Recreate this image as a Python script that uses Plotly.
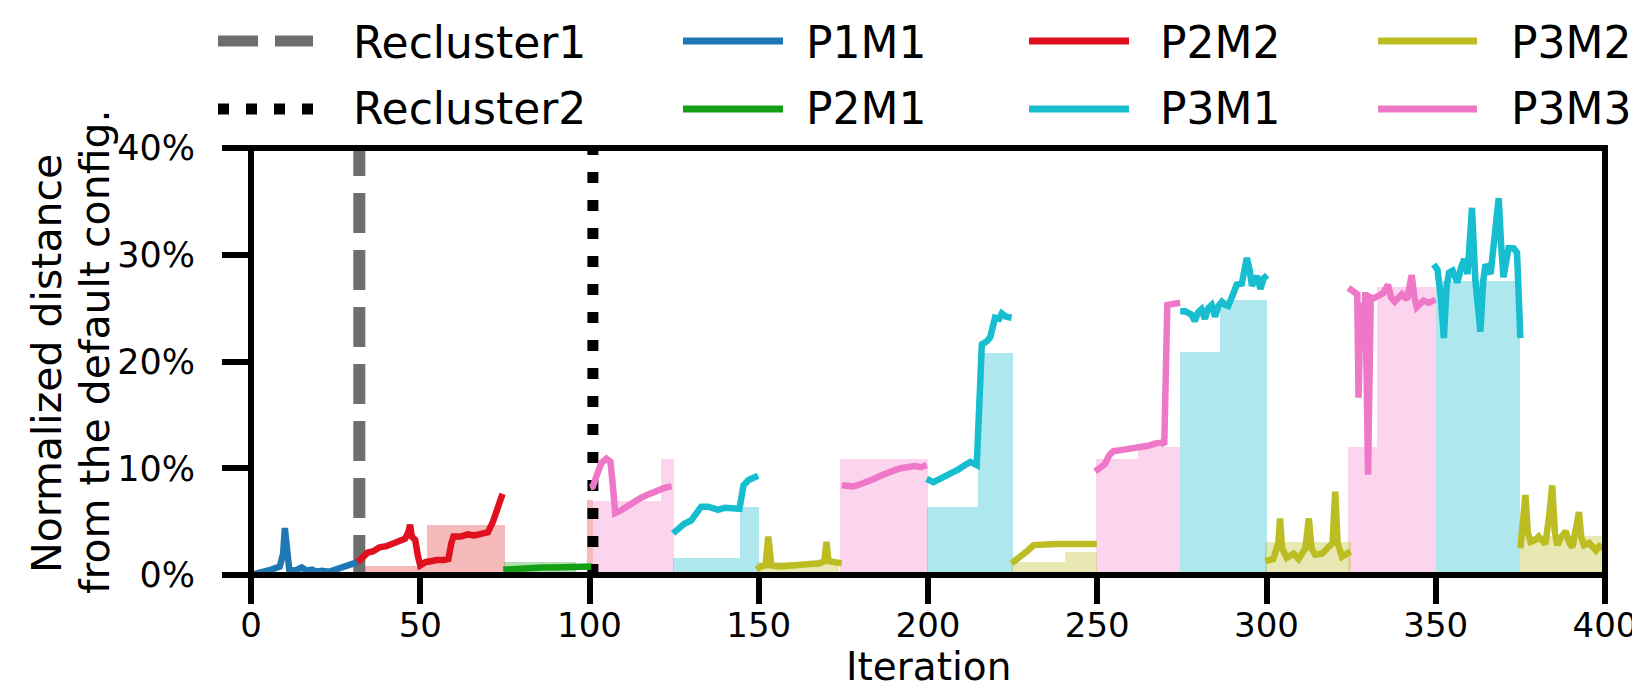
import plotly.graph_objects as go

# ---------------- data (iteration, normalized distance in %) ----------------
p1m1_iter = [0, 3, 6, 8.5, 9.5, 10, 10.6, 11.3, 13, 15, 16.5, 18, 19.5, 21, 23, 25, 27, 29, 31.5]
p1m1_dist = [0.0, 0.2, 0.5, 0.8, 2.0, 4.4, 2.0, 0.5, 0.4, 0.7, 0.4, 0.5, 0.3, 0.4, 0.3, 0.5, 0.6, 0.9, 1.2]

p2m2_iter = [31.5, 33, 34.5, 36, 38, 40, 42, 44, 45.5, 46.5, 47, 47.5, 48.5, 49.3, 50, 51.5, 53, 55,
             57, 58.3, 59.2, 59.8, 62, 64, 66, 68, 70, 71.5, 73, 74.3]
p2m2_dist = [1.2, 1.7, 2.1, 2.2, 2.6, 2.7, 3.0, 3.2, 3.4, 4.0, 4.7, 3.6, 3.3, 1.8, 0.9, 1.2, 1.3, 1.4,
             1.4, 1.5, 3.0, 3.6, 3.6, 3.8, 3.7, 3.8, 4.0, 5.0, 6.5, 7.6]

p2m1_iter = [74.5, 78, 82, 86, 90, 94, 97, 100.5]
p2m1_dist = [0.5, 0.6, 0.6, 0.7, 0.7, 0.7, 0.8, 0.8]

p3m3_iter = [100.2, 101, 102, 103.5, 105, 106.2, 107, 107.6, 109, 111, 113, 115, 117, 119, 121, 122.5, 124.3, None,
             174.5, 176, 178, 180, 182, 184, 186, 188, 190, 192, 194, 196, 198, 199.6, None,
             249.4, 250.5, 252.3, 253.5, 254.8, 257, 259, 261, 263, 265, 267, 269, 269.8, 270.3, 270.7, 272.5, 274.5, None,
             324.2, 325.5, 326.5, 326.8, 327.2, 327.8, 328.5, 329.2, 330.0, 330.8, 331.5, 333, 334.5, 335.9, 336.8,
             337.9, 339, 340, 341.5, 342.9, 343.7, 344.4, 346.4, 348, 349.9]
p3m3_dist = [8.2, 8.3, 9.2, 10.5, 10.9, 10.6, 8.0, 5.8, 6.0, 6.4, 6.9, 7.2, 7.5, 7.8, 8.0, 8.2, 8.3, None,
             8.4, 8.4, 8.3, 8.5, 8.7, 9.0, 9.3, 9.6, 9.8, 10.0, 10.1, 10.2, 10.1, 10.3, None,
             9.7, 10.0, 10.4, 11.2, 11.6, 11.7, 11.8, 11.9, 11.9, 12.1, 12.3, 12.4, 12.2, 20.0, 25.3, 25.4, 25.5, None,
             26.9, 26.6, 26.2, 26.3, 16.6, 25.5, 22.0, 26.5, 9.4, 26.0, 25.9, 26.2, 26.4, 27.2, 26.0,
             25.6, 26.0, 26.3, 25.8, 28.1, 26.0, 25.1, 25.7, 25.5, 25.8]

p3m1_iter = [124.7, 126.5, 128, 130, 131.5, 133, 135, 136.5, 138, 140, 142, 144.3, 145, 145.5, 147, 148.5, 149.8, None,
             199.6, 201.6, 203.5, 205.5, 207, 209, 211, 212.5, 214.4, 215, 215.9, 217.4, 218.4, 219.8, 221, 221.8, 223, 224.7, None,
             274.5, 276, 277.8, 278.8, 279.8, 280.8, 281.8, 282.8, 283.8, 284.8, 285.8, 286.8, 287.8, 288.7, 290, 291.2,
             292.7, 293.5, 294.2, 295, 295.7, 296.5, 297.2, 298.2, 299.2, 300.2, None,
             349.4, 350.5, 351.5, 352.4, 353.2, 353.9, 355, 356.4, 357.5, 358.4, 359.4, 360, 360.7, 361.7, 362.5, 363.2,
             364, 364.7, 366.2, 367.5, 368.6, 369.3, 370, 371.5, 373, 374, 374.5, 375]
p3m1_dist = [3.9, 4.4, 4.8, 5.1, 5.8, 6.4, 6.4, 6.3, 6.1, 6.3, 6.2, 6.2, 7.5, 8.4, 8.9, 9.1, 9.3, None,
             9.0, 8.7, 9.0, 9.3, 9.6, 9.9, 10.3, 10.6, 10.3, 15.0, 21.6, 21.9, 22.3, 24.1, 24.0, 24.5, 24.2, 24.1, None,
             24.7, 24.7, 24.4, 23.8, 24.6, 24.9, 24.0, 25.0, 25.3, 24.2, 25.2, 25.6, 25.3, 25.2, 26.2, 27.2,
             27.3, 28.5, 29.7, 28.6, 27.1, 27.6, 28.0, 26.8, 27.8, 28.1, None,
             29.1, 28.6, 26.0, 22.2, 27.0, 28.3, 28.5, 27.4, 28.8, 29.6, 28.2, 31.0, 34.4, 27.6, 25.0, 22.8,
             27.5, 29.1, 28.2, 32.0, 35.3, 31.0, 27.9, 30.6, 30.6, 30.2, 26.0, 22.2]

p3m2_iter = [149.4, 150.5, 152, 152.5, 152.8, 153.2, 153.7, 156, 159, 162, 165, 168, 169.4, 170, 170.6, 172, 174.5, None,
             224.7, 226, 227.7, 229.5, 231.2, 234, 238, 242, 246, 249.9, None,
             299.6, 302, 303.5, 304, 304.6, 306, 308, 309.5, 311.5, 312.5, 313.3, 314.4, 316.4, 319.5, 320.3, 321, 322.3, 324.8, None,
             375, 375.8, 376.5, 377.2, 378, 379.5, 380.4, 381.5, 382.4, 383.5, 384.4, 385.2, 385.9, 387, 388.4, 389.5,
             390.4, 391.5, 392.3, 393, 393.8, 395.3, 396.5, 397.3, 398.3, 399.3]
p3m2_dist = [0.5, 0.8, 0.9, 2.5, 3.6, 2.5, 0.9, 0.8, 0.9, 0.9, 1.0, 1.1, 1.3, 3.1, 1.3, 1.2, 1.1, None,
             1.1, 1.4, 1.9, 2.3, 2.8, 2.9, 2.9, 2.9, 2.9, 2.9, None,
             1.3, 1.5, 3.0, 5.3, 2.5, 1.6, 2.0, 1.5, 2.5, 5.3, 2.5, 1.9, 2.0, 3.0, 7.8, 3.0, 1.7, 2.2, None,
             2.5, 5.0, 7.5, 4.0, 3.1, 3.3, 3.6, 3.2, 2.9, 5.5, 8.4, 4.0, 2.8, 3.5, 4.1, 3.0,
             2.6, 4.5, 5.9, 3.5, 2.8, 3.0, 2.5, 2.3, 2.7, 2.5]

# shaded step regions: start iteration, end iteration, height (%)
p2m2_shade_start = [32, 52.0, 99.3]
p2m2_shade_end = [52.0, 75, 101]
p2m2_shade_height = [0.85, 4.7, 7.0]

p2m1_shade_start = [74.6]
p2m1_shade_end = [96]
p2m1_shade_height = [1.25]

p3m3_shade_start = [101, 121.2, 174, 249.5, 262, 324.2, 332.6]
p3m3_shade_end = [121.2, 125, 200, 262, 274.5, 332.6, 350]
p3m3_shade_height = [6.9, 10.9, 10.9, 10.9, 12.0, 12.0, 27.0]

p3m1_shade_start = [124.7, 144.4, 199.6, 214.8, 274.3, 286.2, 350]
p3m1_shade_end = [144.4, 150, 214.8, 225.1, 286.2, 300.2, 375]
p3m1_shade_height = [1.55, 6.4, 6.4, 20.8, 20.9, 25.8, 27.5]

p3m2_shade_start = [149.4, 224.4, 240.6, 299.6, 375]
p3m2_shade_end = [173.8, 240.6, 250, 325, 400]
p3m2_shade_height = [1.24, 1.24, 2.2, 3.1, 3.7]

recluster1_iter = 32
recluster2_iter = 101

x_ticks = [0, 50, 100, 150, 200, 250, 300, 350, 400]
y_ticks = [0, 10, 20, 30, 40]
y_tick_labels = ["0%", "10%", "20%", "30%", "40%"]

# ---------------- styling ----------------
FONT = "DejaVu Sans"
W, H = 1640, 691
ML, MR, MT, MB = 243, 43, 140, 124
PW, PH = W - ML - MR, H - MT - MB

def paper_x(px):
    return (px - ML) / PW

def paper_y(py):
    return (H - MB - py) / PH

colors = {
    "P1M1": "#1f77b4", "P2M1": "#14a014", "P2M2": "#e0101e",
    "P3M1": "#17becf", "P3M2": "#bcbd22", "P3M3": "#ef77c8",
}
shade_colors = {
    "P2M2": "rgba(228,26,28,0.30)", "P2M1": "rgba(44,160,44,0.35)",
    "P3M3": "rgba(245,120,200,0.32)", "P3M1": "rgba(23,190,207,0.35)",
    "P3M2": "rgba(188,189,34,0.35)",
}
R1_COLOR = "#6e6e6e"
R1_DASH = "40px,17px"
R2_DASH = "11px,17px"
LINE_W = 6.5

fig = go.Figure()

shades = [
    ("P2M2", p2m2_shade_start, p2m2_shade_end, p2m2_shade_height),
    ("P2M1", p2m1_shade_start, p2m1_shade_end, p2m1_shade_height),
    ("P3M3", p3m3_shade_start, p3m3_shade_end, p3m3_shade_height),
    ("P3M1", p3m1_shade_start, p3m1_shade_end, p3m1_shade_height),
    ("P3M2", p3m2_shade_start, p3m2_shade_end, p3m2_shade_height),
]
for name, s, e, h in shades:
    fig.add_trace(go.Bar(
        x=s, y=h, width=[b - a for a, b in zip(s, e)], offset=0,
        marker=dict(color=shade_colors[name], line=dict(width=0)),
        showlegend=False, hoverinfo="skip", name=name + " range"))

fig.add_trace(go.Scatter(x=[recluster1_iter, recluster1_iter], y=[0, 40], mode="lines",
                         line=dict(color=R1_COLOR, width=12, dash=R1_DASH),
                         name="Recluster1", showlegend=False))
fig.add_trace(go.Scatter(x=[recluster2_iter, recluster2_iter], y=[0, 40], mode="lines",
                         line=dict(color="black", width=11, dash=R2_DASH),
                         name="Recluster2", showlegend=False))

series = [
    ("P1M1", p1m1_iter, p1m1_dist), ("P2M2", p2m2_iter, p2m2_dist),
    ("P2M1", p2m1_iter, p2m1_dist), ("P3M3", p3m3_iter, p3m3_dist),
    ("P3M1", p3m1_iter, p3m1_dist), ("P3M2", p3m2_iter, p3m2_dist),
]
for name, xs, ys in series:
    fig.add_trace(go.Scatter(x=xs, y=ys, mode="lines", name=name, connectgaps=False,
                             line=dict(color=colors[name], width=LINE_W), showlegend=False))

# ---------------- manual legend (4 columns x 2 rows) ----------------
legend_cols = [
    (210, 305, 343, ["Recluster1", "Recluster2"]),
    (675, 775, 796, ["P1M1", "P2M1"]),
    (1021, 1121, 1150, ["P2M2", "P3M1"]),
    (1370, 1469, 1501, ["P3M2", "P3M3"]),
]
row_line_y = [33, 101]
row_text_y = [35, 101]
shapes = []
annotations = []
for x0, x1, tx, labels in legend_cols:
    for r, lab in enumerate(labels):
        if lab == "Recluster1":
            ln = dict(color=R1_COLOR, width=11, dash=R1_DASH)
        elif lab == "Recluster2":
            ln = dict(color="black", width=11, dash=R2_DASH)
        else:
            ln = dict(color=colors[lab], width=7)
        shapes.append(dict(type="line", xref="paper", yref="paper",
                           x0=paper_x(x0), x1=paper_x(x1),
                           y0=paper_y(row_line_y[r]), y1=paper_y(row_line_y[r]), line=ln))
        annotations.append(dict(text=lab, xref="paper", yref="paper",
                                x=paper_x(tx), y=paper_y(row_text_y[r]),
                                xanchor="left", yanchor="middle", showarrow=False,
                                font=dict(family=FONT, size=44, color="black")))

# axis titles
annotations.append(dict(text="Iteration", xref="paper", yref="paper",
                        x=0.5, y=paper_y(658), xanchor="center", yanchor="middle",
                        showarrow=False, font=dict(family=FONT, size=39, color="black")))
for txt, cx, cy in [("Normalized distance", 39, 356), ("from the default config.", 87, 344)]:
    annotations.append(dict(text=txt, xref="paper", yref="paper", textangle=-90,
                            x=paper_x(cx), y=paper_y(cy), xanchor="center", yanchor="middle",
                            showarrow=False, font=dict(family=FONT, size=41, color="black")))

# frame
shapes.append(dict(type="rect", xref="paper", yref="paper", x0=0, x1=1, y0=0, y1=1,
                   line=dict(color="black", width=6), layer="above"))

fig.update_layout(
    width=W, height=H, autosize=False,
    margin=dict(l=ML, r=MR, t=MT, b=MB),
    paper_bgcolor="white", plot_bgcolor="white",
    barmode="overlay", bargap=0,
    shapes=shapes, annotations=annotations,
    font=dict(family=FONT, color="black"),
    xaxis=dict(range=[0, 400], tickvals=x_ticks, ticks="outside", ticklen=28, tickwidth=6,
               tickcolor="black", showgrid=False, zeroline=False, showline=False,
               automargin=False, ticklabelstandoff=-8, tickfont=dict(family=FONT, size=34)),
    yaxis=dict(range=[0, 40], tickvals=y_ticks, ticktext=y_tick_labels, ticks="outside",
               ticklen=28, tickwidth=6, tickcolor="black", showgrid=False, zeroline=False,
               showline=False, automargin=False, ticklabelstandoff=20,
               tickfont=dict(family=FONT, size=35)),
)

fig.write_html("out.html")
